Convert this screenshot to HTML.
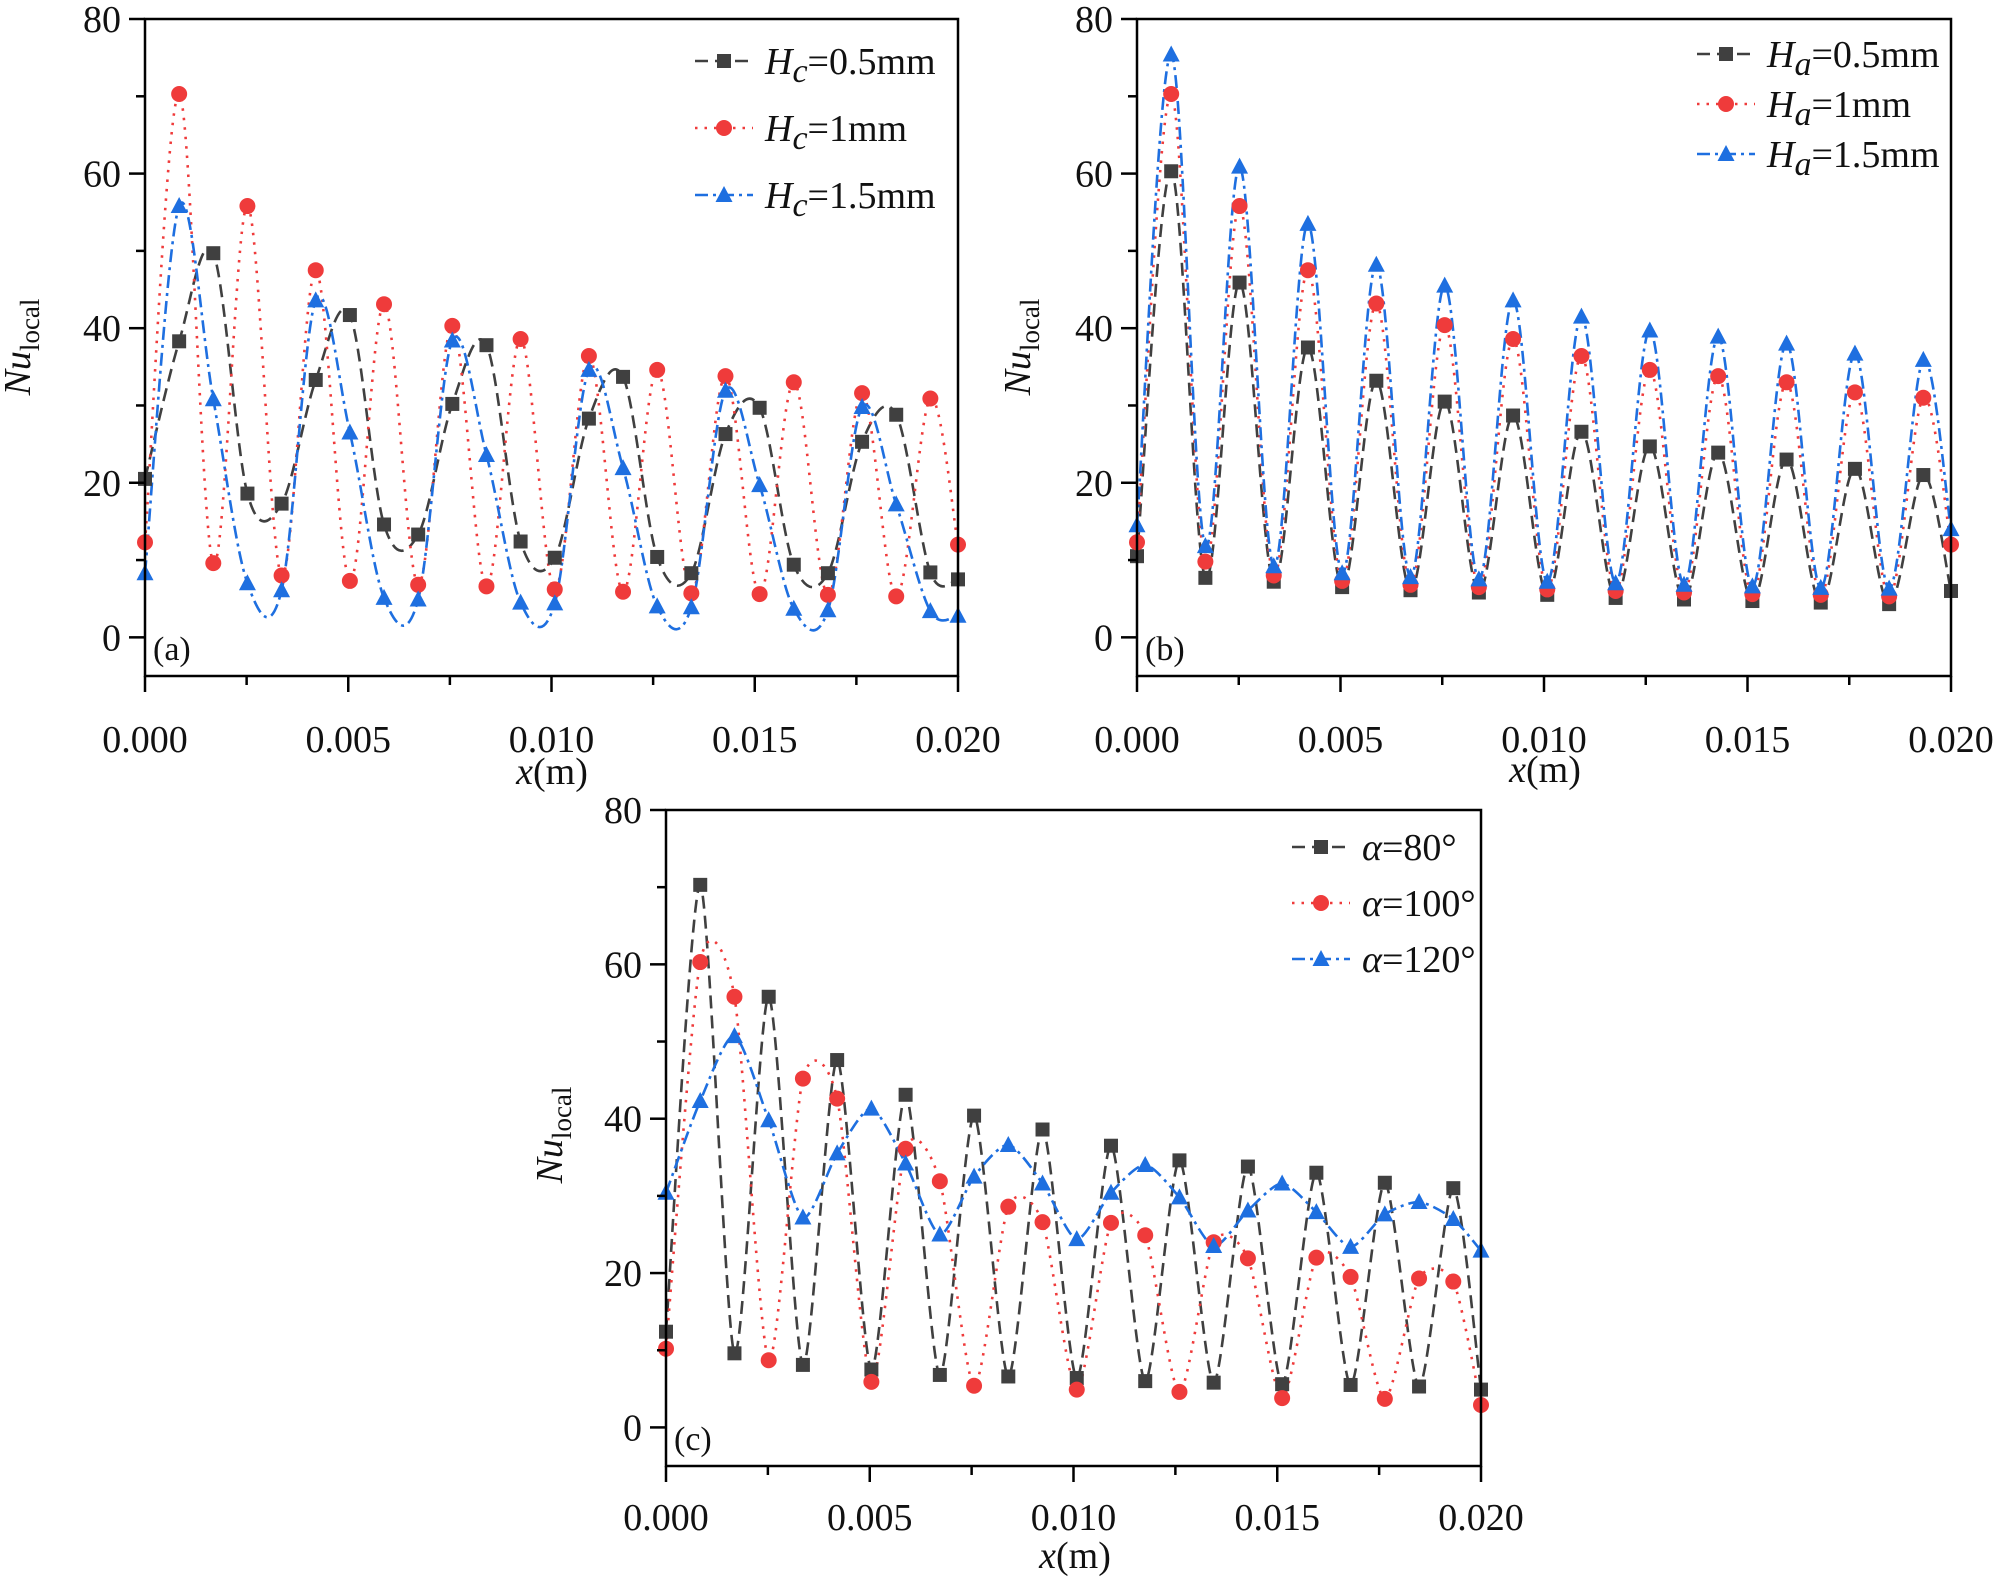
<!DOCTYPE html>
<html><head><meta charset="utf-8"><style>
body{margin:0;background:#fff}
</style></head><body>
<svg id="fig" width="2000" height="1581" viewBox="0 0 2000 1581" xmlns="http://www.w3.org/2000/svg" font-family="'Liberation Serif', 'Times New Roman', serif"></svg>
<script>
const xMax = 0.02, dxData = 0.00084;
const xTickLabels = ["0.000","0.005","0.010","0.015","0.020"];
const yTickLabels = ["0","20","40","60","80"];
const aBlack = [20.5,38.3,49.7,18.6,17.3,33.3,41.7,14.6,13.3,30.2,37.8,12.4,10.3,28.3,33.7,10.4,8.3,26.3,29.7,9.4,8.3,25.3,28.8,8.4,7.5];
const aRed = [12.3,70.3,9.6,55.8,8.0,47.5,7.3,43.1,6.8,40.3,6.6,38.6,6.2,36.4,5.9,34.6,5.7,33.8,5.6,33.0,5.5,31.6,5.3,30.9,12];
const aBlue = [8.3,55.8,30.8,7.0,6.1,43.6,26.5,5.1,4.9,38.4,23.6,4.5,4.4,34.6,21.9,4.0,3.9,31.9,19.7,3.7,3.5,29.8,17.2,3.4,2.8];
const bBlack = [10.5,60.3,7.7,45.9,7.2,37.5,6.5,33.2,6.1,30.5,5.8,28.7,5.5,26.6,5.1,24.7,4.9,23.9,4.7,23.0,4.5,21.8,4.3,21.0,6];
const bRed = [12.3,70.3,9.8,55.8,8,47.5,7.3,43.2,6.8,40.4,6.5,38.6,6.2,36.4,6,34.6,5.8,33.8,5.6,33.0,5.5,31.7,5.3,31.0,12];
const bBlue = [14.5,75.4,11.8,60.9,9.2,53.5,8.3,48.2,7.8,45.5,7.5,43.6,7.2,41.5,7,39.7,6.8,38.9,6.6,38.0,6.4,36.7,6.3,35.9,14];
const cBlack = [12.4,70.3,9.6,55.8,8.1,47.6,7.5,43.1,6.8,40.4,6.6,38.6,6.4,36.5,6.0,34.6,5.8,33.8,5.6,33.0,5.5,31.7,5.3,31.0,4.9];
const cRed = [10.2,60.3,55.8,8.7,45.2,42.6,5.9,36.1,31.9,5.4,28.6,26.6,4.9,26.5,24.9,4.6,24.0,21.9,3.8,22.0,19.5,3.7,19.3,18.9,2.9];
const cBlue = [30.4,42.3,50.7,39.8,27.2,35.5,41.3,34.2,25.0,32.5,36.6,31.6,24.4,30.4,34.0,29.8,23.5,28.1,31.6,27.9,23.4,27.6,29.2,27.0,22.9];
const aLegend = ["c","0.5mm","1mm","1.5mm"];
const bLegend = ["a","0.5mm","1mm","1.5mm"];
const cLegend = ["80°","100°","120°"];

const NS="http://www.w3.org/2000/svg";
const svg=document.getElementById('fig');
function mk(tag,attrs,parent){const e=document.createElementNS(NS,tag);for(const k in attrs)e.setAttribute(k,attrs[k]);(parent||svg).appendChild(e);return e;}
const COL=["#404040","#ef3b3b","#1e6fe0"];
const DASH=["13,7","2.5,7","13,5,3,5"];

function spline(pts,t){
  let d="M"+pts[0][0]+","+pts[0][1];
  for(let i=0;i<pts.length-1;i++){
    const p0=pts[Math.max(0,i-1)],p1=pts[i],p2=pts[i+1],p3=pts[Math.min(pts.length-1,i+2)];
    const c1=[p1[0]+(p2[0]-p0[0])/t,p1[1]+(p2[1]-p0[1])/t];
    const c2=[p2[0]-(p3[0]-p1[0])/t,p2[1]-(p3[1]-p1[1])/t];
    d+=" C"+c1[0]+","+c1[1]+" "+c2[0]+","+c2[1]+" "+p2[0]+","+p2[1];
  }
  return d;
}
function marker(k,x,y,g){
  let e;
  if(k===0){e=mk('rect',{x:x-7,y:y-7,width:14,height:14,fill:COL[0]},g);}
  else if(k===1){e=mk('circle',{cx:x,cy:y,r:8,fill:COL[1]},g);}
  else {e=mk('polygon',{points:(x)+","+(y-9)+" "+(x-8.5)+","+(y+7)+" "+(x+8.5)+","+(y+7),fill:COL[2]},g);}
  return e;
}
function panel(id,L,R,T,B,series,legend,lx,ly,lgap,tag,ylx,yly,xlx,xly,tickOff,tens){
  const g=mk('g',{});
  
  
  const y0=T+(B-T)*80/85;
  const sx=v=>L+(R-L)*v/xMax;
  const sy=v=>T+(y0-T)*(80-v)/80;
  const cp=mk('clipPath',{id:'clip-'+id},g);
  mk('rect',{x:L,y:T,width:R-L,height:B-T},cp);
  const sg=mk('g',{'clip-path':'url(#clip-'+id+')'},g);
  series.forEach((vals,k)=>{
    const pts=vals.map((v,i)=>[sx(Math.min(i*dxData,xMax)),sy(v)]);
    const p=mk('path',{d:spline(pts,tens),fill:'none',stroke:COL[k],'stroke-width':2.6,'stroke-dasharray':DASH[k]},sg);
    
    
    pts.forEach(pt=>{const m=marker(k,pt[0],pt[1],g);
      
      });
  });
  const fr=mk('rect',{x:L,y:T,width:R-L,height:B-T,fill:'none',stroke:'#000','stroke-width':2.5},g);
  
  
  for(let v=0;v<=80;v+=10){
    const y=sy(v); const major=v%20===0;
    mk('line',{x1:L-(major?16:9),x2:L,y1:y,y2:y,stroke:'#000','stroke-width':2.5},g);
  }
  yTickLabels.forEach(s=>{const t=mk('text',{x:L-24,y:sy(+s)+13,'font-size':38,'text-anchor':'end',fill:'#111'},g);t.textContent=s;
    
    });
  for(let i=0;i<=8;i++){
    const x=sx(i*0.0025); const major=i%2===0;
    mk('line',{x1:x,x2:x,y1:B,y2:B+(major?16:9),stroke:'#000','stroke-width':2.5},g);
  }
  xTickLabels.forEach((s,i)=>{const t=mk('text',{x:sx(i*0.005),y:B+tickOff,'font-size':38,'text-anchor':'middle',fill:'#111'},g);t.textContent=s;
    
    });
  const yl=mk('text',{x:0,y:0,'font-size':38,'text-anchor':'middle',fill:'#111',transform:`translate(${ylx},${yly}) rotate(-90)`},g);
  yl.innerHTML='<tspan font-style="italic">Nu</tspan><tspan font-size="27" dy="9">local</tspan>';
  
  
  const xl=mk('text',{x:xlx,y:xly,'font-size':38,'text-anchor':'middle',fill:'#111'},g);
  xl.innerHTML='<tspan font-style="italic">x</tspan>(m)';
  
  
  const tg=mk('text',{x:L+8,y:B-16,'font-size':34,fill:'#111'},g);tg.textContent=tag;
  
  
  for(let k=0;k<3;k++){
    const y=ly+k*lgap;
    const le=mk('g',{},g);
    
    
    mk('line',{x1:lx,x2:lx+58,y1:y,y2:y,stroke:COL[k],'stroke-width':2.6,'stroke-dasharray':DASH[k]},le);
    marker(k,lx+29,y,le);
    const t=mk('text',{x:lx+70,y:y+13,'font-size':38,fill:'#111'},le);
    if(legend.length===4) t.innerHTML='<tspan font-style="italic">H</tspan><tspan font-style="italic" font-size="34" dy="8">'+legend[0]+'</tspan><tspan dy="-8">='+legend[k+1]+'</tspan>';
    else t.innerHTML='<tspan font-style="italic">α</tspan>='+legend[k];
  }
}
panel('a',145,958,19,676,[aBlack,aRed,aBlue],aLegend,695,61,67,'(a)',30,347,552,784,76,6);
panel('b',1137,1951,19,676,[bBlack,bRed,bBlue],bLegend,1697,54,50,'(b)',1030,347,1545,782,76,6);
panel('c',666,1481,810,1466,[cBlack,cRed,cBlue],cLegend,1292,847,56,'(c)',562,1135,1075,1568,64,8);
</script>
</body></html>
